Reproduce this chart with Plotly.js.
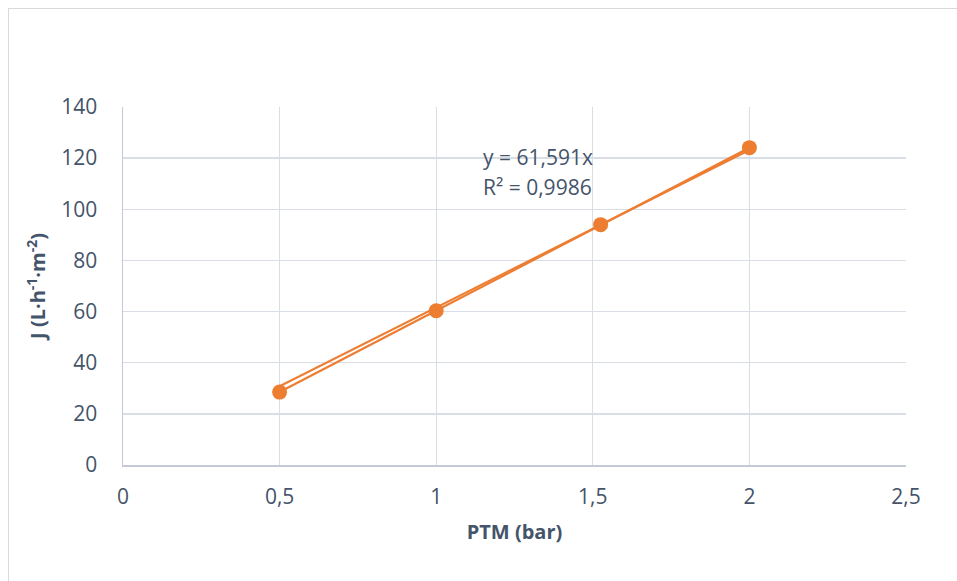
<!DOCTYPE html>
<html>
<head>
<meta charset="utf-8">
<script src="https://cdn.plot.ly/plotly-3.0.1.min.js"></script>
<style>
  html, body { margin: 0; padding: 0; background: #ffffff; overflow: hidden; }
  #frame { position: absolute; left: 8px; top: 8px; width: 1000px; height: 620px;
           border: 1px solid #D9D9D9; box-sizing: border-box; }
  #chart { position: absolute; left: 0; top: 0; width: 957px; height: 581px; }
</style>
</head>
<body>
<div id="frame"></div>
<div id="chart"></div>
<script>
// Transmembrane pressure (bar) vs permeate flux J (L·h⁻¹·m⁻²)
const ptm = [0.5, 1.0, 1.525, 2.0];
const flux = [28.5, 60.3, 94.0, 124.1];

// Linear fit through the origin: y = 61,591x, R² = 0,9986
const slope = 61.591;
const r2 = 0.9986;
const fitX = [Math.min(...ptm), Math.max(...ptm)];
const fitY = fitX.map(x => slope * x);

const xTicks = [0, 0.5, 1, 1.5, 2, 2.5];
const yTicks = [0, 20, 40, 60, 80, 100, 120, 140];

const orange = '#ED7D31';
const textColor = '#44546A';
const fontFam = '"Open Sans", "Noto Sans", sans-serif';

const traces = [
  {
    x: fitX, y: fitY, type: 'scatter', mode: 'lines',
    line: { color: orange, width: 2 }, hoverinfo: 'skip', showlegend: false
  },
  {
    x: ptm, y: flux, type: 'scatter', mode: 'lines+markers',
    line: { color: orange, width: 2.25 },
    marker: { color: orange, size: 15, line: { width: 0 } },
    showlegend: false
  }
];

const fmt = v => v.toFixed(3).replace('.', ',').replace(/0+$/, '').replace(/,$/, '');

const layout = {
  width: 957, height: 581,
  paper_bgcolor: 'rgba(0,0,0,0)', plot_bgcolor: '#ffffff',
  margin: { l: 123, r: 51, t: 107, b: 116 },
  separators: ',.',
  font: { family: fontFam, color: textColor, size: 21 },
  xaxis: {
    range: [0, 2.5], tickvals: xTicks,
    showgrid: true, gridcolor: '#D9DEE6', gridwidth: 1.4,
    showline: true, linecolor: '#C3CAD5', linewidth: 1.5,
    zeroline: false,
    ticks: 'outside', ticklen: 12, tickcolor: 'rgba(0,0,0,0)',
    tickfont: { size: 21, color: textColor },
    title: { text: '<b>PTM (bar)</b>', font: { size: 20, color: textColor }, standoff: 16 }
  },
  yaxis: {
    range: [0, 140], tickvals: yTicks,
    showgrid: true, gridcolor: '#D9DEE6', gridwidth: 1.4,
    showline: true, linecolor: '#C3CAD5', linewidth: 1.5,
    zeroline: false,
    ticks: 'outside', ticklen: 20, tickcolor: 'rgba(0,0,0,0)',
    tickfont: { size: 21, color: textColor },
    title: { text: '<b>J (L·h<sup>-1</sup>·m<sup>-2</sup>)</b>', font: { size: 20, color: textColor }, standoff: 10 }
  },
  annotations: [
    {
      xref: 'x', yref: 'y', x: 1.143, y: 120.4, xanchor: 'left', yanchor: 'middle',
      text: 'y = ' + fmt(slope) + 'x', showarrow: false, align: 'left',
      font: { size: 21, color: textColor, family: fontFam }
    },
    {
      xref: 'x', yref: 'y', x: 1.143, y: 108.7, xanchor: 'left', yanchor: 'middle',
      text: 'R² = ' + r2.toFixed(4).replace('.', ','), showarrow: false, align: 'left',
      font: { size: 21, color: textColor, family: fontFam }
    }
  ]
};

Plotly.newPlot('chart', traces, layout, { staticPlot: true, displayModeBar: false });
</script>
</body>
</html>
